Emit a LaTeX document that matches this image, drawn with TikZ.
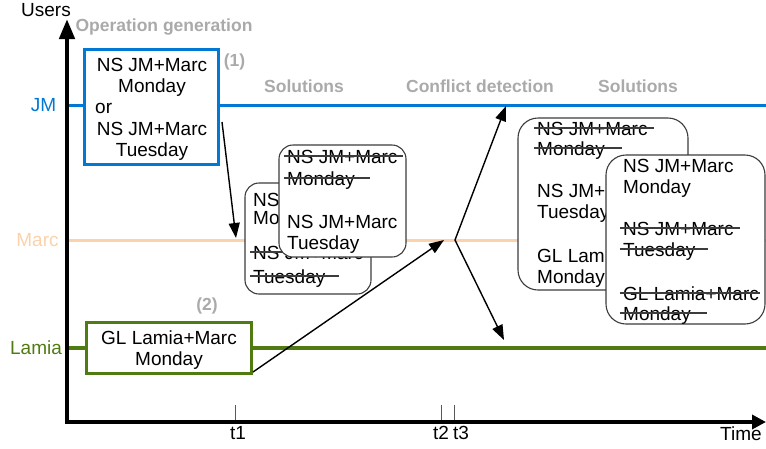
\documentclass[tikz,border=0pt]{standalone}
\usepackage{fontspec}
\setmainfont{Liberation Sans}
\usetikzlibrary{arrows.meta,calc}
\definecolor{jmblue}{RGB}{0,120,212}
\definecolor{marcorange}{RGB}{251,210,172}
\definecolor{lamiagreen}{RGB}{80,122,18}
\definecolor{labgray}{RGB}{170,170,170}
\definecolor{boxgray}{RGB}{60,60,60}
\begin{document}
\begin{tikzpicture}[x=1pt,y=-1pt,
  fnt/.style={font=\fontsize{19}{21}\selectfont},
  txt/.style={fnt, inner sep=0pt, anchor=base west},
  ctxt/.style={fnt, inner sep=0pt, anchor=base},
  glabel/.style={font=\fontsize{17.5}{20}\selectfont\bfseries, text=labgray, inner sep=0pt, anchor=base},
  rbox/.style={draw=boxgray, line width=1.1pt, fill=white, inner sep=0pt},
  strikeline/.style={draw=boxgray, line width=1.1pt},
  struck/.style={append after command={($(\tikzlastnode.base west)+(-3,-7)$) edge[strikeline] ($(\tikzlastnode.base east)+(#1,-7)$)}},
  bluebox/.style={draw=jmblue, line width=3.5pt, fill=white, inner sep=0pt},
  greenbox/.style={draw=lamiagreen, line width=3.5pt, fill=white, inner sep=0pt},
  arr/.style={line width=1.4pt, -{Triangle[length=15pt,width=11pt]}},
  tickmark/.style={draw=black!65, line width=1pt},
  axisline/.style={line width=4.5pt, line join=miter}
]
\useasboundingbox (0,0) rectangle (766,448);

% user lines
\coordinate (jmS) at (67,105);   \coordinate (jmE) at (766,105);
\coordinate (marcS) at (67,240); \coordinate (marcE) at (766,240);
\coordinate (lamS) at (67,348);  \coordinate (lamE) at (766,348);
\draw[jmblue, line width=3pt] (jmS) -- (jmE);
\draw[marcorange, line width=3pt] (marcS) -- (marcE);
\draw[lamiagreen, line width=3.5pt] (lamS) -- (lamE);

% user labels
\node[ctxt, text=jmblue] (lblJM) at (43.5,111.5) {JM};
\node[ctxt, text=marcorange] (lblMarc) at (37.5,246.5) {Marc};
\node[ctxt, text=lamiagreen] (lblLamia) at (36,354.5) {Lamia};

% gray phase labels
\node[glabel] (gOp) at (164,31.5) {Operation generation};
\node[glabel] (gOne) at (234.5,66) {(1)};
\node[glabel] (gTwo) at (207,310) {(2)};
\node[glabel] (gSolA) at (304,92) {Solutions};
\node[glabel] (gConf) at (480,92) {Conflict detection};
\node[glabel] (gSolB) at (638,92) {Solutions};

% operation box (JM)
\node[bluebox, minimum width=134pt, minimum height=115pt] (opbox) at (151.5,107) {};
\node[ctxt] (opA) at (152,71) {NS JM+Marc};
\node[ctxt] (opB) at (152,92.5) {Monday};
\node[txt]  (opC) at (95,113.5) {or};
\node[ctxt] (opD) at (152,135) {NS JM+Marc};
\node[ctxt] (opE) at (152,156) {Tuesday};

% operation box (Lamia)
\node[greenbox, minimum width=165pt, minimum height=51pt] (glbox) at (169,348) {};
\node[ctxt] (glA) at (169,344) {GL Lamia+Marc};
\node[ctxt] (glB) at (169,365) {Monday};

% solution boxes at Marc (t1)
\node[rbox, rounded corners=14pt, minimum width=126pt, minimum height=111pt] (boxA) at (308,238.5) {};
\node[txt] (Aa) at (253,206) {NS JM+Marc};
\node[txt] (Ab) at (253,224) {Monday};
\node[txt, struck=6] (Ac) at (253,259) {NS JM+Marc};
\node[txt, struck=13] (Ad) at (253,283) {Tuesday};

\node[rbox, rounded corners=14pt, minimum width=127pt, minimum height=112pt] (boxB) at (342.5,201) {};
\node[txt, struck=5] (Ba) at (287,163) {NS JM+Marc};
\node[txt, struck=15] (Bb) at (287,185) {Monday};
\node[txt] (Bc) at (287,228) {NS JM+Marc};
\node[txt] (Bd) at (287,249) {Tuesday};

% solution boxes after conflict detection
\node[rbox, rounded corners=20pt, minimum width=170pt, minimum height=172pt] (boxC) at (603,204) {};
\node[txt, struck=6] (Ca) at (537,135) {NS JM+Marc};
\node[txt, struck=17] (Cb) at (537,155) {Monday};
\node[txt] (Cc) at (537,197) {NS JM+Marc};
\node[txt] (Cd) at (537,218) {Tuesday};
\node[txt] (Ce) at (537,262) {GL Lamia+Marc};
\node[txt] (Cf) at (537,283) {Monday};

\node[rbox, rounded corners=20pt, minimum width=159pt, minimum height=169pt] (boxD) at (685.5,239.5) {};
\node[txt] (Da) at (623,172) {NS JM+Marc};
\node[txt] (Db) at (623,193) {Monday};
\node[txt, struck=6] (Dc) at (623,235) {NS JM+Marc};
\node[txt, struck=12] (Dd) at (623,256) {Tuesday};
\node[txt, struck=1] (De) at (623,300) {GL Lamia+Marc};
\node[txt, struck=16] (Df) at (623,320) {Monday};

% connectors
\coordinate (aOneS) at (222,122);  \coordinate (aOneE) at (236,238);
\coordinate (aTwoS) at (253,372);  \coordinate (aTwoE) at (444,240);
\coordinate (cd) at (455,240);
\coordinate (cdUp) at (506,106);   \coordinate (cdDown) at (504,340);
\draw[arr] (aOneS) -- (aOneE);
\draw[arr] (aTwoS) -- (aTwoE);
\draw[line width=1.4pt, line join=miter, {Triangle[length=15pt,width=11pt]}-{Triangle[length=15pt,width=11pt]}] (cdUp) -- (cd) -- (cdDown);

% ticks
\coordinate (tOneA) at (235,405);   \coordinate (tOneB) at (235,422);
\coordinate (tTwoA) at (441.5,405); \coordinate (tTwoB) at (441.5,422);
\coordinate (tThrA) at (454.5,405); \coordinate (tThrB) at (454.5,422);
\draw[tickmark] (tOneA) -- (tOneB);
\draw[tickmark] (tTwoA) -- (tTwoB);
\draw[tickmark] (tThrA) -- (tThrB);
\node[ctxt] (lt1) at (238,439) {t1};
\node[ctxt] (lt2) at (441,439) {t2};
\node[ctxt] (lt3) at (461,439) {t3};

% axes
\coordinate (ytip) at (67,19);
\coordinate (xtip) at (766,422);
\draw[axisline, {Triangle[length=20pt,width=15pt]}-{Triangle[length=14pt,width=14pt]}] (ytip) |- (xtip);
\node[ctxt] (lblUsers) at (46,16) {Users};
\node[ctxt] (lblTime) at (741,440) {Time};
\end{tikzpicture}
\end{document}
